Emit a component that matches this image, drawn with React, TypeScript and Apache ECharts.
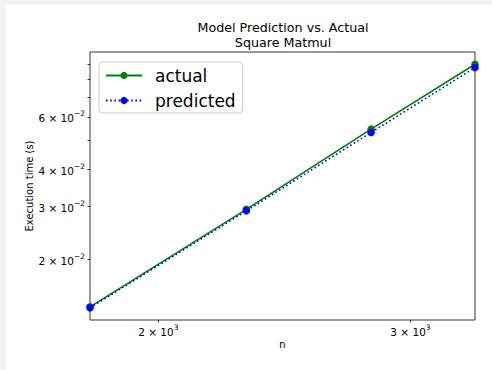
import React, { useEffect, useRef } from 'react';
import * as echarts from 'echarts';

const nValues = [1792, 2304, 2816, 3328];
const actualTimes = [0.01387, 0.0294, 0.05456, 0.08996];
const predictedTimes = [0.01376, 0.02906, 0.05318, 0.0877];
const xTickValues = [2000, 3000];
const xLabelValues = [2000, 3000];
const yTickValues = [0.02, 0.03, 0.04, 0.05, 0.06, 0.07, 0.08, 0.09];
const yLabelValues = [0.02, 0.03, 0.04, 0.06];
const xRange = [1792, 3328];
const yRange = [0.01253, 0.0989];

const FONT = 'DejaVu Sans';

function sciLabel(v: number): string {
  const e = Math.floor(Math.log10(v) + 1e-9);
  const m = Math.round(v / Math.pow(10, e));
  const exp = (e < 0 ? '\u2212' : '') + Math.abs(e);
  return `{b|${m} \u00d7 10}{s|${exp}}`;
}

const richSci = {
  b: { fontSize: 10.5, fontFamily: FONT, color: '#000', lineHeight: 14, verticalAlign: 'bottom' },
  s: { fontSize: 7.5, fontFamily: FONT, color: '#000', lineHeight: 14, verticalAlign: 'top' },
};

export default function App() {
  const ref = useRef<HTMLDivElement>(null);
  useEffect(() => {
    if (!ref.current) return;
    const chart = echarts.init(ref.current, null, { renderer: 'svg' });
    chart.setOption({
      animation: false,
      backgroundColor: '#ffffff',
      title: {
        text: 'Model Prediction vs. Actual\nSquare Matmul',
        left: 277,
        top: 15,
        textAlign: 'center',
        padding: 0,
        textStyle: { fontFamily: FONT, fontSize: 12.7, fontWeight: 'normal', color: '#000', lineHeight: 15 },
      },
      legend: {
        orient: 'vertical',
        left: 93,
        top: 57,
        padding: [5, 7, 4, 6],
        itemWidth: 36,
        itemHeight: 9,
        itemGap: 8,
        borderColor: '#cccccc',
        borderWidth: 1,
        borderRadius: 4,
        backgroundColor: 'rgba(255,255,255,0.8)',
        textStyle: { fontFamily: FONT, fontSize: 17, color: '#000', padding: [0, 0, 0, 8] },
        data: ['actual', 'predicted'],
      },
      grid: {
        left: 84,
        top: 47,
        right: 17,
        bottom: 50,
        show: true,
        borderColor: '#000',
        borderWidth: 0.8,
        backgroundColor: 'transparent',
      },
      xAxis: {
        type: 'log',
        logBase: 10,
        min: xRange[0],
        max: xRange[1],
        name: 'n',
        nameLocation: 'middle',
        nameGap: 19,
        nameMoveOverlap: false,
        nameTextStyle: { fontFamily: FONT, fontSize: 10, color: '#000' },
        axisLine: { show: false },
        splitLine: { show: false },
        minorTick: { show: false },
        axisTick: { show: true, length: 2.5, lineStyle: { color: '#000', width: 0.8 }, customValues: xTickValues },
        axisLabel: {
          customValues: xLabelValues,
          margin: 3,
          formatter: (v: number) => sciLabel(v),
          rich: richSci,
        },
      },
      yAxis: {
        type: 'log',
        logBase: 10,
        min: yRange[0],
        max: yRange[1],
        name: 'Execution time (s)',
        nameLocation: 'middle',
        nameRotate: 90,
        nameGap: 56,
        nameMoveOverlap: false,
        nameTextStyle: { fontFamily: FONT, fontSize: 10, color: '#000' },
        axisLine: { show: false },
        splitLine: { show: false },
        minorTick: { show: false },
        axisTick: { show: true, length: 2.5, lineStyle: { color: '#000', width: 0.8 }, customValues: yTickValues },
        axisLabel: {
          customValues: yLabelValues,
          margin: 5,
          formatter: (v: number) => sciLabel(v),
          rich: richSci,
        },
      },
      series: [
        {
          name: 'actual',
          type: 'line',
          data: nValues.map((n, i) => [n, actualTimes[i]]),
          color: '#008000',
          symbol: 'circle',
          symbolSize: 7.5,
          lineStyle: { color: '#008000', width: 1.6 },
          itemStyle: { color: '#008000' },
          clip: true,
          z: 2,
        },
        {
          name: 'predicted',
          type: 'line',
          data: nValues.map((n, i) => [n, predictedTimes[i]]),
          color: '#0000ff',
          symbol: 'circle',
          symbolSize: 7.5,
          lineStyle: { color: '#0000ff', width: 1.6, type: [1.6, 2.6] },
          itemStyle: { color: '#0000ff' },
          clip: true,
          z: 3,
        },
      ],
    });
    return () => chart.dispose();
  }, []);
  return (
    <div style={{ position: 'fixed', left: 0, top: 0, width: 492, height: 370, background: '#f3f3f3' }}>
      <div ref={ref} style={{ position: 'absolute', left: 6, top: 5, width: 486, height: 365 }} />
    </div>
  );
}
